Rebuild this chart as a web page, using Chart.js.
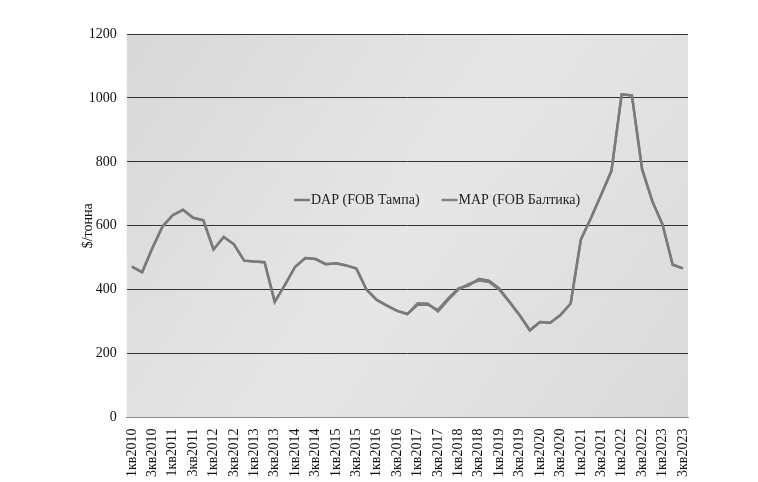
<!DOCTYPE html>
<html><head><meta charset="utf-8">
<script src="https://cdn.jsdelivr.net/npm/chart.js@4"></script>
<style>body{margin:0;background:#fff}#w{width:758px;height:482px}</style>
</head><body><div id="w"><canvas id="c"></canvas></div>
<script>
const quarters = [];
for (let y = 2010; y <= 2023; y++) for (let q = 1; q <= 4; q++) if (!(y === 2023 && q === 4)) quarters.push(q + 'кв' + y);
const dap = [472,455,530,598,633,650,625,617,526,565,542,491,488,486,362,415,472,499,496,480,483,476,466,400,368,350,334,324,353,353,337,373,404,413,434,428,404,362,320,273,299,297,321,357,557,625,698,772,1011,1008,777,677,604,478,467];
const map = [472,455,530,598,633,650,625,617,526,565,542,491,488,486,362,415,472,499,496,480,483,476,466,400,368,350,334,324,358,357,332,368,400,418,429,424,400,362,320,273,299,297,321,357,557,625,698,772,1011,1008,777,677,604,478,467];
const yTicks = [0,200,400,600,800,1000,1200];

const bg = {id:'bg',beforeDraw(ch){const {ctx,chartArea:a}=ch;ctx.save();
 const g=ctx.createLinearGradient(a.left,a.top,a.right,a.bottom);g.addColorStop(0,'#d8d8d8');g.addColorStop(0.5,'#e6e6e6');g.addColorStop(1,'#dadada');
 ctx.fillStyle=g;ctx.fillRect(a.left,a.top,a.right-a.left,a.bottom-a.top);ctx.restore();}};
const leg = {id:'leg',afterDraw(ch){const ctx=ch.ctx;ctx.save();ctx.font='14px "Liberation Serif"';ctx.fillStyle='#222';ctx.textBaseline='middle';
 let x=294,y=200;ch.data.datasets.forEach(d=>{ctx.strokeStyle=d.borderColor;ctx.lineWidth=2.5;ctx.beginPath();ctx.moveTo(x,y);ctx.lineTo(x+16,y);ctx.stroke();
 ctx.fillText(d.label,x+17,y);x+=17+ctx.measureText(d.label).width+22;});ctx.restore();}};

new Chart(document.getElementById('c'),{type:'line',
 data:{labels:quarters,datasets:[
  {label:'DAP (FOB Тампа)',data:dap,borderColor:'#7a7a7a',borderWidth:2.5,pointRadius:0,tension:0},
  {label:'MAP (FOB Балтика)',data:map,borderColor:'#858585',borderWidth:2.5,pointRadius:0,tension:0}]},
 options:{responsive:true,maintainAspectRatio:false,animation:false,
  layout:{padding:{left:80,right:70,top:34,bottom:2}},
  plugins:{legend:{display:false},tooltip:{enabled:false}},
  scales:{
   x:{offset:true,grid:{display:false},border:{color:'#888'},
    ticks:{autoSkip:false,maxRotation:90,minRotation:90,color:'#111',font:{family:'Liberation Serif',size:14},
     callback(v,i){return i%2===0?quarters[i]:null;}}},
   y:{min:0,max:1200,afterBuildTicks(s){s.ticks=yTicks.map(v=>({value:v}));},
    grid:{color:'#333',lineWidth:1,drawTicks:false},border:{display:false},
    ticks:{padding:10,color:'#111',font:{family:'Liberation Serif',size:14},callback:v=>String(v)},
    title:{display:true,text:'$/тонна',color:'#111',font:{family:'Liberation Serif',size:14},padding:{top:0,bottom:-18}}}}},
 plugins:[bg,leg]});
</script></body></html>
